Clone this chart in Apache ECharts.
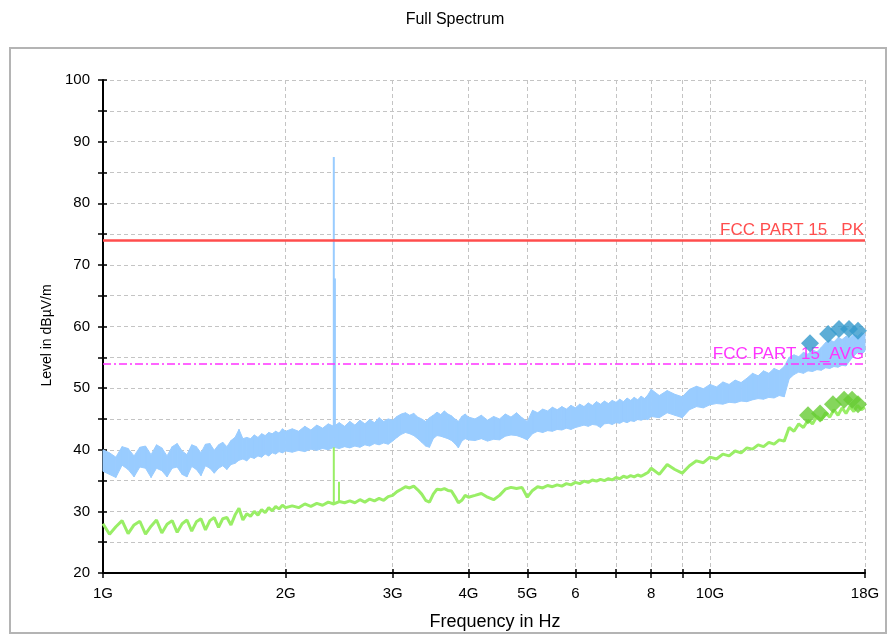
<!DOCTYPE html>
<html>
<head>
<meta charset="utf-8">
<title>Full Spectrum</title>
<script src="https://cdn.jsdelivr.net/npm/echarts@6/dist/echarts.min.js"></script>
<style>
  html, body { margin: 0; padding: 0; background: #ffffff; }
  #chart { width: 894px; height: 637px; }
</style>
</head>
<body>
<div id="chart"></div>
<script>
// sweep frequencies in GHz
const freqGHz = [
  1.000, 1.025, 1.050, 1.075, 1.100, 1.125, 1.150, 1.175, 1.200, 1.225, 1.250, 1.275, 1.300, 1.325,
  1.350, 1.375, 1.400, 1.425, 1.450, 1.475, 1.500, 1.525, 1.550, 1.575, 1.600, 1.625, 1.650, 1.675,
  1.700, 1.725, 1.750, 1.775, 1.800, 1.825, 1.850, 1.875, 1.900, 1.925, 1.950, 1.975, 2.000,
  2.05, 2.10, 2.15, 2.20, 2.25, 2.30, 2.35, 2.40, 2.45, 2.50, 2.55, 2.60, 2.65, 2.70, 2.75, 2.80,
  2.85, 2.90, 2.95, 3.00, 3.05, 3.10, 3.15, 3.20, 3.25, 3.30, 3.35, 3.40, 3.45, 3.50, 3.55, 3.60,
  3.65, 3.70, 3.75, 3.80, 3.85, 3.90, 3.95, 4.00,
  4.1, 4.2, 4.3, 4.4, 4.5, 4.6, 4.7, 4.8, 4.9, 5.0, 5.1, 5.2, 5.3, 5.4, 5.5, 5.6, 5.7, 5.8, 5.9, 6.0,
  6.1, 6.2, 6.3, 6.4, 6.5, 6.6, 6.7, 6.8, 6.9, 7.0, 7.1, 7.2, 7.3, 7.4, 7.5, 7.6, 7.7, 7.8, 7.9, 8.0,
  8.25, 8.5, 8.75, 9.0, 9.25, 9.5, 9.75, 10.0, 10.25, 10.5, 10.75, 11.0, 11.25, 11.5, 11.75, 12.0,
  12.25, 12.5, 12.75, 13.0, 13.25, 13.5, 13.75, 14.0, 14.25, 14.5, 14.75, 15.0, 15.25, 15.5, 15.75,
  16.0, 16.25, 16.5, 16.75, 17.0, 17.25, 17.5, 17.75, 18.0
];

// peak detector trace, upper and lower edge of the noise band (dBuV/m)
const pkHigh = [
  40.0, 39.5, 38.8, 40.5, 40.2, 39.0, 40.4, 40.6, 39.2, 40.8, 40.3, 39.0, 40.5, 41.0,
  39.8, 39.2, 40.8, 40.5, 39.5, 40.9, 41.0, 39.9, 40.8, 41.2, 40.5, 41.5, 42.0, 43.3,
  41.8, 42.0, 41.8, 42.4, 42.0, 42.6, 42.3, 42.8, 42.6, 43.0, 42.7, 43.4, 43.0,
  43.4, 43.0, 43.8, 43.2, 44.0, 43.5, 44.2, 43.8, 44.4, 43.8, 44.6, 44.0, 44.8, 44.2, 44.9, 44.4,
  45.2, 44.6, 45.0, 44.8, 45.4, 45.8, 46.0, 45.6, 45.9, 45.3, 45.0, 44.6, 45.2, 45.6, 46.1, 45.7,
  46.3, 45.8, 45.5, 45.0, 44.6, 45.4, 45.8, 45.3,
  45.0, 45.6, 44.8, 45.4, 45.0, 45.8, 45.3, 46.0, 45.2, 44.6, 46.4, 46.0, 46.6, 46.3, 46.9, 46.5,
  47.0, 46.6, 47.2, 46.8, 47.4, 47.0, 47.6, 47.2, 47.8, 47.4, 47.9, 47.5, 48.0, 47.7, 48.2, 47.8,
  48.4, 48.0, 48.5, 48.1, 48.7, 48.3, 48.9, 49.8,
  48.8, 49.6, 49.0, 48.6, 49.8, 50.3, 49.9, 50.6, 50.2, 51.0, 50.6, 51.3, 50.9, 51.6, 52.4, 52.0,
  52.8, 52.4, 53.2, 52.8, 53.5, 55.0, 55.4, 55.1, 55.8, 55.5, 56.2, 55.9, 56.6, 57.4, 57.8,
  57.5, 58.2, 57.9, 58.4, 58.1, 58.7, 58.4, 59.0, 58.8
];
const pkLow = [
  36.5, 36.0, 35.5, 37.5, 36.8, 35.6, 37.2, 37.0, 35.5, 37.0, 36.6, 35.6, 37.0, 37.2,
  36.0, 35.6, 37.3, 36.8, 35.8, 37.4, 37.0, 36.2, 37.0, 37.4, 36.8, 37.6, 37.8, 38.3,
  38.5, 38.2, 38.8, 38.6, 39.0, 38.8, 39.3, 39.0, 39.5, 39.3, 39.7, 39.5, 39.8,
  39.6, 39.9, 39.7, 40.1, 39.9, 40.2, 40.0, 40.4, 40.2, 40.5, 40.3, 40.6, 40.4, 40.8, 40.6, 41.0,
  40.8, 41.1, 40.9, 41.4, 42.0, 42.5, 42.8, 42.6, 42.3, 41.8, 41.2, 40.6, 40.4, 41.8, 42.3, 42.2,
  42.0, 41.8, 41.5, 41.0, 40.3, 41.4, 41.8, 41.6,
  41.5, 41.8, 41.4, 41.7, 41.6, 42.2, 42.4, 42.3, 42.0, 41.6, 42.6, 43.0, 42.8, 43.1, 43.0, 43.3,
  43.2, 43.5, 43.3, 43.6, 43.8, 44.0, 43.8, 44.1, 44.0, 43.6, 44.2, 44.3, 44.1, 44.4, 44.3, 44.6,
  44.4, 44.7, 44.6, 44.9, 44.8, 45.0, 44.9, 45.4,
  45.2, 46.0, 45.6, 45.2, 46.5, 47.0, 46.8, 47.3, 47.5, 47.4, 47.7, 47.6, 47.9, 47.8, 48.1, 48.3,
  48.2, 48.5, 48.4, 48.8, 48.6, 51.5, 52.2, 52.6, 52.4, 52.8, 52.7, 53.0, 52.9, 53.3, 53.2,
  53.5, 53.4, 53.7, 53.6, 54.5, 55.2, 55.8, 55.5, 56.0
];

// average detector trace (dBuV/m)
const avLevel = [
  28.0, 26.3, 27.5, 28.5, 26.4, 27.8, 28.4, 26.3, 27.6, 28.6, 26.5, 27.9, 28.5, 26.6,
  28.0, 28.6, 26.8, 28.3, 28.8, 27.0, 28.5, 29.0, 27.4, 28.8, 29.0, 27.8, 29.4, 30.5,
  28.6, 29.6, 29.2, 30.0, 29.4, 30.3, 29.8, 30.6, 30.1, 30.8, 30.4, 31.0, 30.6,
  30.9, 30.6, 31.2, 30.8, 31.3, 31.0, 31.5, 31.2, 31.6, 31.4, 31.7, 31.4, 31.9, 31.5, 32.0, 31.7,
  32.1, 31.8, 32.4, 32.6, 33.2, 33.6, 34.0, 33.8, 34.1, 33.5, 32.8, 31.8, 31.5, 32.8, 33.6, 33.5,
  33.7, 33.4, 33.3, 32.4, 31.4, 31.8, 32.6, 32.3,
  32.6, 32.9, 32.3, 31.9, 32.6, 33.6, 33.9, 33.7, 33.9, 32.3, 33.4, 34.0, 33.8, 34.2, 34.0, 34.3,
  34.1, 34.5, 34.3, 34.7, 34.5, 34.9, 34.7, 35.1, 34.9, 35.2, 35.0, 35.3, 35.1, 35.5, 35.3, 35.7,
  35.5, 35.8, 35.6, 35.9, 35.7, 36.0, 36.3, 37.0,
  36.0, 37.6, 36.8, 36.2, 37.4, 38.2, 37.9, 38.8, 38.5, 39.3, 39.0, 39.8, 39.5, 40.3, 40.1, 40.8,
  40.5, 41.2, 40.9, 41.6, 41.4, 43.6, 43.0, 44.2, 43.6, 44.8, 44.2, 45.4, 44.8, 46.0, 45.3,
  46.5, 45.6, 46.8, 45.9, 47.0, 46.2, 47.2, 46.5, 46.9
];

// narrow carrier spikes near 2.4 GHz
const pkSpikeFreq = [2.40, 2.41];
const pkSpikeBase = [42.0, 42.0];
const pkSpikeTop = [87.5, 67.8];
const avSpikeFreq = [2.40, 2.448];
const avSpikeBase = [31.4, 31.5];
const avSpikeTop = [40.4, 34.8];

// final measurement points
const pkFinalFreq = [14.61, 15.65, 16.31, 16.94, 17.53];
const pkFinalLevel = [57.3, 58.8, 59.6, 59.6, 59.3];
const avFinalFreq = [14.50, 15.18, 15.94, 16.63, 17.14, 17.53];
const avFinalLevel = [45.6, 45.9, 47.4, 48.1, 48.1, 47.4];

// limit lines
const limitFreq = [1, 18];
const pkLimit = [74, 74];
const avLimit = [54, 54];

// axis ticks
const xTickVals = [1, 2, 3, 4, 5, 6, 7, 8, 9, 10, 18];
const xLabelVals = [1, 2, 3, 4, 5, 6, 8, 10, 18];
const xLabelText = ['1G', '2G', '3G', '4G', '5G', '6', '8', '10G', '18G'];

const FONT = 'Liberation Sans, Arial, sans-serif';

const chart = echarts.init(document.getElementById('chart'));

// band cells between consecutive sweep points
const bandData = [];
for (let i = 0; i < freqGHz.length - 1; i++) {
  bandData.push([freqGHz[i], pkLow[i], pkHigh[i], freqGHz[i + 1], pkLow[i + 1], pkHigh[i + 1]]);
}

function renderBand(params, api) {
  const a = api.coord([api.value(0), api.value(2)]);
  const b = api.coord([api.value(3), api.value(5)]);
  const c = api.coord([api.value(3), api.value(4)]);
  const d = api.coord([api.value(0), api.value(1)]);
  return {
    type: 'polygon',
    shape: { points: [a, b, c, d] },
    style: { fill: '#99ccff', stroke: '#99ccff', lineWidth: 1 }
  };
}

function spikeRenderer(color, width) {
  return function (params, api) {
    const p0 = api.coord([api.value(0), api.value(1)]);
    const p1 = api.coord([api.value(0), api.value(2)]);
    return {
      type: 'line',
      shape: { x1: p0[0], y1: p0[1], x2: p1[0], y2: p1[1] },
      style: { stroke: color, lineWidth: width }
    };
  };
}

const gridLine = { show: true, lineStyle: { color: '#c4c4c4', type: [4, 3], width: 1 } };
const tickLine = { color: '#000', width: 1.5 };

const option = {
  animation: false,
  backgroundColor: '#ffffff',
  title: {
    text: 'Full Spectrum',
    left: 450,
    top: 7,
    textAlign: 'center',
    textStyle: { fontFamily: FONT, fontSize: 16, fontWeight: 'normal', color: '#000' }
  },
  graphic: [{
    type: 'rect',
    shape: { x: 10, y: 48, width: 876, height: 585 },
    style: { fill: null, stroke: '#b4b4b4', lineWidth: 2 },
    silent: true
  }],
  grid: { left: 103, right: 29, top: 80, bottom: 64 },
  xAxis: [
    {
      type: 'log',
      logBase: 10,
      min: 1,
      max: 18,
      name: 'Frequency in Hz',
      nameLocation: 'middle',
      nameGap: 40,
      nameTextStyle: { fontFamily: FONT, fontSize: 18, color: '#000', padding: [0, 0, 0, 22] },
      axisLine: { lineStyle: { color: '#000', width: 2 } },
      axisTick: { customValues: xTickVals, length: 5, lineStyle: tickLine },
      axisLabel: {
        customValues: xLabelVals,
        margin: 13,
        fontFamily: FONT,
        fontSize: 15,
        color: '#000',
        formatter: function (v) {
          const i = xLabelVals.indexOf(Math.round(v * 100) / 100);
          return i >= 0 ? xLabelText[i] : '';
        }
      },
      splitLine: gridLine,
      minorTick: { show: false }
    },
    {
      // inner half of the crossing ticks
      type: 'log',
      logBase: 10,
      min: 1,
      max: 18,
      position: 'bottom',
      axisLine: { show: false },
      axisTick: { customValues: xTickVals, inside: true, length: 4, lineStyle: tickLine },
      axisLabel: { show: false },
      splitLine: { show: false }
    }
  ],
  yAxis: [
    {
      type: 'value',
      min: 20,
      max: 100,
      interval: 5,
      name: 'Level in dBµV/m',
      nameLocation: 'middle',
      nameGap: 49,
      nameTextStyle: { fontFamily: FONT, fontSize: 14, color: '#000', padding: [0, 18, 0, 0] },
      axisLine: { show: true, lineStyle: { color: '#000', width: 2 } },
      axisTick: { show: true, length: 5, lineStyle: tickLine },
      axisLabel: {
        margin: 13,
        fontFamily: FONT,
        fontSize: 15,
        color: '#000',
        formatter: function (v) { return v % 10 === 0 ? String(v) : ''; }
      },
      splitLine: gridLine
    },
    {
      type: 'value',
      min: 20,
      max: 100,
      interval: 5,
      position: 'left',
      axisLine: { show: false },
      axisTick: { show: true, inside: true, length: 4, lineStyle: tickLine },
      axisLabel: { show: false },
      splitLine: { show: false }
    }
  ],
  series: [
    {
      name: 'PK band',
      type: 'custom',
      renderItem: renderBand,
      encode: { x: [0, 3], y: [1, 2, 4, 5] },
      data: bandData,
      silent: true,
      z: 2
    },
    {
      name: 'PK spikes',
      type: 'custom',
      renderItem: spikeRenderer('#99ccff', 2),
      encode: { x: 0, y: [1, 2] },
      data: pkSpikeFreq.map((f, i) => [f, pkSpikeBase[i], pkSpikeTop[i]]),
      silent: true,
      z: 2
    },
    {
      name: 'AV',
      type: 'line',
      data: freqGHz.map((f, i) => [f, avLevel[i]]),
      showSymbol: false,
      symbol: 'none',
      lineStyle: { color: '#99ee66', width: 3 },
      z: 3
    },
    {
      name: 'AV spikes',
      type: 'custom',
      renderItem: spikeRenderer('#99ee66', 2),
      encode: { x: 0, y: [1, 2] },
      data: avSpikeFreq.map((f, i) => [f, avSpikeBase[i], avSpikeTop[i]]),
      silent: true,
      z: 3
    },
    {
      name: 'FCC PART 15   PK',
      type: 'line',
      data: [],
      z: 4,
      markLine: {
        silent: true,
        symbol: 'none',
        lineStyle: { color: '#ff4d4d', width: 2.5, type: 'solid' },
        label: {
          show: true,
          position: 'insideEndTop',
          distance: 1,
          formatter: 'FCC PART 15   PK',
          color: '#ff4d4d',
          fontFamily: FONT,
          fontSize: 17
        },
        data: [[{ coord: [limitFreq[0], pkLimit[0]] }, { coord: [limitFreq[1], pkLimit[1]] }]]
      }
    },
    {
      name: 'FCC PART 15_AVG',
      type: 'line',
      data: [],
      z: 4,
      markLine: {
        silent: true,
        symbol: 'none',
        lineStyle: { color: '#ff33ff', width: 1.5, type: [8, 3, 2, 3] },
        label: {
          show: true,
          position: 'insideEndTop',
          distance: 1,
          formatter: 'FCC PART 15_AVG',
          color: '#ff33ff',
          fontFamily: FONT,
          fontSize: 17
        },
        data: [[{ coord: [limitFreq[0], avLimit[0]] }, { coord: [limitFreq[1], avLimit[1]] }]]
      }
    },
    {
      name: 'PK final',
      type: 'scatter',
      symbol: 'diamond',
      symbolSize: 18,
      itemStyle: { color: '#3399cc' },
      data: pkFinalFreq.map((f, i) => [f, pkFinalLevel[i]]),
      z: 5
    },
    {
      name: 'AV final',
      type: 'scatter',
      symbol: 'diamond',
      symbolSize: 18,
      itemStyle: { color: '#66cc33' },
      data: avFinalFreq.map((f, i) => [f, avFinalLevel[i]]),
      z: 5
    }
  ]
};

chart.setOption(option);
</script>
</body>
</html>
